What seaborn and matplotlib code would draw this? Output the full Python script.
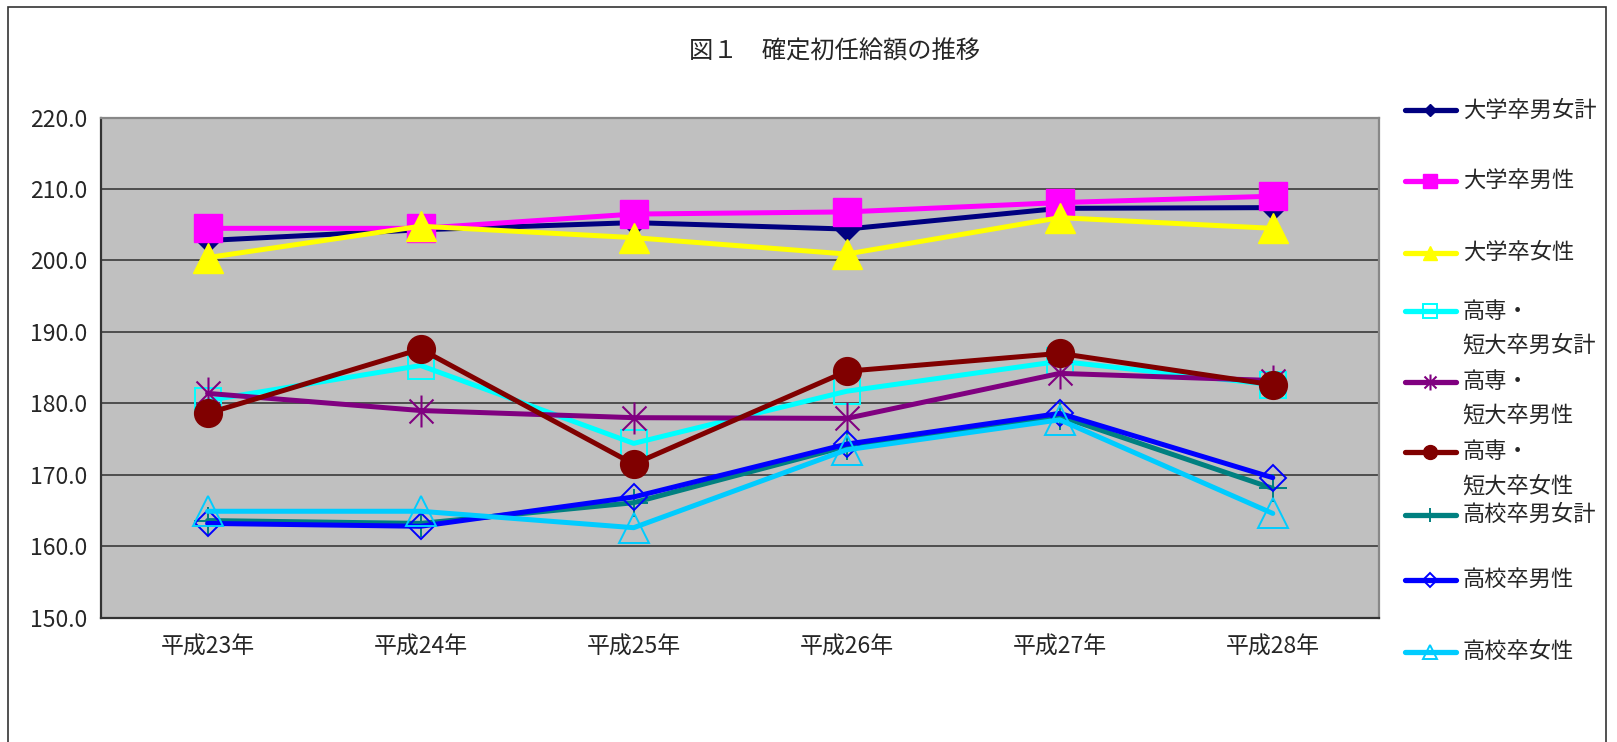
import matplotlib.pyplot as plt
import seaborn as sns
from matplotlib.lines import Line2D
from matplotlib.patches import Rectangle
from matplotlib.path import Path

# categories / series
years = ["平成23年", "平成24年", "平成25年", "平成26年", "平成27年", "平成28年"]
labels = ["大学卒男女計", "大学卒男性", "大学卒女性",
          "高専・\n短大卒男女計", "高専・\n短大卒男性", "高専・\n短大卒女性",
          "高校卒男女計", "高校卒男性", "高校卒女性"]

univ_total = [202.8, 204.3, 205.3, 204.4, 207.3, 207.4]
univ_male = [204.5, 204.5, 206.5, 206.8, 208.1, 209.0]
univ_female = [200.4, 204.8, 203.2, 200.9, 206.0, 204.5]
jc_total = [180.4, 185.3, 174.4, 181.7, 185.9, 182.6]
jc_male = [181.4, 179.0, 178.0, 177.9, 184.2, 183.2]
jc_female = [178.6, 187.6, 171.5, 184.5, 187.0, 182.6]
hs_total = [163.6, 163.2, 166.1, 174.0, 178.2, 168.1]
hs_male = [163.2, 162.8, 166.9, 174.3, 178.6, 169.6]
hs_female = [164.9, 164.9, 162.6, 173.5, 177.7, 164.6]
series = [univ_total, univ_male, univ_female, jc_total, jc_male, jc_female,
          hs_total, hs_male, hs_female]

# Excel style "star": an x with a vertical bar
star = Path([(0, -1), (0, 1), (-0.75, -0.75), (0.75, 0.75), (-0.75, 0.75), (0.75, -0.75)],
            [Path.MOVETO, Path.LINETO] * 3)

styles = [
    dict(color="#000080", marker="D", ms=12, mfc="#000080", mec="#000080", mew=1),
    dict(color="#FF00FF", marker="s", ms=20, mfc="#FF00FF", mec="#FF00FF", mew=1),
    dict(color="#FFFF00", marker="^", ms=21, mfc="#FFFF00", mec="#FFFF00", mew=1),
    dict(color="#00FFFF", marker="s", ms=19, mfc="none", mec="#00FFFF", mew=1.4),
    dict(color="#800080", marker=star, ms=23, mfc="none", mec="#800080", mew=1.5),
    dict(color="#800000", marker="o", ms=20, mfc="#800000", mec="#800000", mew=1),
    dict(color="#008080", marker="+", ms=20, mfc="none", mec="#008080", mew=1.4),
    dict(color="#0000FF", marker="D", ms=13.5, mfc="none", mec="#0000FF", mew=1.4),
    dict(color="#00CCFF", marker="^", ms=21, mfc="none", mec="#00CCFF", mew=1.4),
]

sns.set_style("white")
plt.rcParams["font.family"] = ["Noto Sans CJK JP", "DejaVu Sans"]

fig = plt.figure(figsize=(16.17, 7.42), dpi=100)
ax = fig.add_axes([0.0625, 0.1675, 0.7905, 0.674])
ax.set_facecolor("#C0C0C0")

for vals, st in zip(series, styles):
    sns.lineplot(x=list(range(len(years))), y=vals, ax=ax, color=st["color"],
                 lw=3.6, marker=st["marker"], markersize=st["ms"],
                 markerfacecolor=st["mfc"], markeredgecolor=st["mec"],
                 markeredgewidth=st["mew"])

ax.set_xlim(-0.5, len(years) - 0.5)
ax.set_ylim(150, 220)
ax.set_xticks(range(len(years)))
ax.set_xticklabels(years, fontsize=16.5)
ax.set_xticks([i + 0.5 for i in range(len(years) - 1)], minor=True)
ax.tick_params(axis="x", which="major", length=0, pad=13)
ax.tick_params(axis="x", which="minor", direction="in", length=7, width=1.2, color="#222222")
yt = list(range(150, 221, 10))
ax.set_yticks(yt)
ax.set_yticklabels([f"{v:.1f}" for v in yt], fontsize=16.5)
ax.tick_params(axis="y", direction="in", length=6, width=1.2, color="#222222", pad=10)
ax.yaxis.grid(True, color="#444444", lw=1.3)
ax.set_axisbelow(True)
for side in ["left", "bottom"]:
    ax.spines[side].set_color("#333333")
    ax.spines[side].set_linewidth(1.6)
for side in ["top", "right"]:
    ax.spines[side].set_color("#888888")
    ax.spines[side].set_linewidth(1.6)
ax.set_xlabel("")
ax.set_ylabel("")

fig.text(0.516, 0.930, "図１　確定初任給額の推移", ha="center", va="center", fontsize=17.5)

# legend drawn entry by entry (Excel-like spacing)
legend_y = [0.8513, 0.7554, 0.6594, 0.5803, 0.4857, 0.3912, 0.3065, 0.2189, 0.1216]
x0, x1, tx, dy = 0.8687, 0.9004, 0.9045, 0.046
for lab, st, y in zip(labels, styles, legend_y):
    fig.add_artist(Line2D([x0, (x0 + x1) / 2, x1], [y, y, y], transform=fig.transFigure,
                          color=st["color"], lw=3.8, marker=st["marker"], markevery=[1],
                          markersize=st["ms"] * 0.5, markerfacecolor=st["mfc"],
                          markeredgecolor=st["mec"], markeredgewidth=st["mew"]))
    for i, line in enumerate(lab.split("\n")):
        fig.text(tx, y - i * dy, line, va="center", ha="left", fontsize=16)

fig.add_artist(Rectangle((0.0051, -0.1), 0.9881, 1.0903, transform=fig.transFigure,
                         fill=False, ec="#333333", lw=1.2))

fig.savefig("out.png", dpi=100)
